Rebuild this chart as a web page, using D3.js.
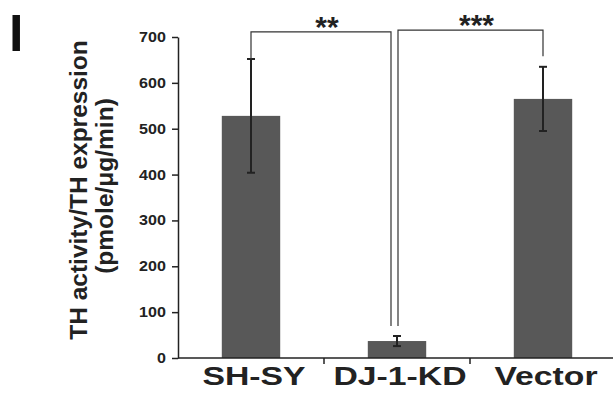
<!DOCTYPE html>
<html>
<head>
<meta charset="utf-8">
<script src="https://cdn.jsdelivr.net/npm/d3@7"></script>
<style>
  body { margin: 0; background: #fff; }
  svg { display: block; font-family: 'Liberation Sans', Arial, sans-serif; }
</style>
</head>
<body>
<div class="canvas"></div>
<script>
// data
const categories = ['SH-SY', 'DJ-1-KD', 'Vector']
const means = [528, 37, 565]
const errors = [124, 11, 70]
const yTicks = [0, 100, 200, 300, 400, 500, 600, 700]
// significance brackets: [from, to, label, left leg end, right leg end]
const comparisons = [
  ['SH-SY', 'DJ-1-KD', '**', 652, 70],
  ['DJ-1-KD', 'Vector', '***', 70, 658],
]
const bracketLevels = [711, 715]

const dims = { width: 613, height: 395 }
const plot = { left: 178, top: 37, bottom: 358 }

const svg = d3
  .select('.canvas')
  .append('svg')
  .attr('width', dims.width)
  .attr('height', dims.height)

const x = d3
  .scaleBand()
  .domain(categories)
  .range([plot.left, plot.left + 438])
  .paddingInner(0.6)
  .paddingOuter(0.3)

const y = d3.scaleLinear().domain([0, 700]).range([plot.bottom, plot.top])

const ink = '#222'

// bars
svg
  .selectAll('rect.bar')
  .data(categories)
  .enter()
  .append('rect')
  .attr('class', 'bar')
  .attr('x', (d) => x(d))
  .attr('y', (d, i) => y(means[i]))
  .attr('width', x.bandwidth())
  .attr('height', (d, i) => y(0) - y(means[i]))
  .attr('fill', '#585858')

// error bars
const cx = (d) => x(d) + x.bandwidth() / 2
const err = svg.append('g').attr('stroke', ink).attr('stroke-width', 2)
categories.forEach((c, i) => {
  const top = y(means[i] + errors[i])
  const bot = y(means[i] - errors[i])
  err.append('line').attr('x1', cx(c)).attr('x2', cx(c)).attr('y1', top).attr('y2', bot)
  ;[top, bot].forEach((v) => {
    err.append('line').attr('x1', cx(c) - 4).attr('x2', cx(c) + 4).attr('y1', v).attr('y2', v)
  })
})

// y axis
const yAxis = svg
  .append('g')
  .attr('transform', `translate(${plot.left},0)`)
  .call(d3.axisLeft(y).tickValues(yTicks).tickSize(6).tickSizeOuter(0).tickPadding(0))
yAxis.select('.domain').attr('stroke', ink).attr('stroke-width', 1.5)
yAxis.selectAll('.tick line').attr('stroke', ink).attr('stroke-width', 1.5)
yAxis
  .selectAll('.tick text')
  .attr('x', -10.5)
  .attr('transform', 'scale(1.15,1)')
  .attr('font-size', 14)
  .attr('font-weight', 'bold')
  .attr('fill', ink)
  .attr('font-family', "'Liberation Sans', Arial, sans-serif")

// x axis: line across, separators between groups
const xAxis = svg.append('g').attr('transform', `translate(0,${plot.bottom})`)
xAxis
  .append('line')
  .attr('x1', plot.left)
  .attr('x2', dims.width)
  .attr('stroke', ink)
  .attr('stroke-width', 1.5)
xAxis
  .selectAll('line.sep')
  .data(categories.slice(1))
  .enter()
  .append('line')
  .attr('class', 'sep')
  .attr('x1', (d) => x(d) - x.step() * x.paddingInner() / 2)
  .attr('x2', (d) => x(d) - x.step() * x.paddingInner() / 2)
  .attr('y1', 0)
  .attr('y2', 6)
  .attr('stroke', ink)
  .attr('stroke-width', 1.5)
xAxis
  .selectAll('text')
  .data(categories)
  .enter()
  .append('text')
  .attr('transform', (d) => `translate(${cx(d) + 3},27) scale(1.35,1)`)
  .attr('text-anchor', 'middle')
  .attr('font-size', 25)
  .attr('font-weight', 'bold')
  .attr('fill', ink)
  .text((d) => d)

// y title
svg
  .append('text')
  .attr('transform', 'translate(87,190) rotate(-90)')
  .attr('text-anchor', 'middle')
  .attr('font-size', 24.5)
  .attr('font-weight', 'bold')
  .attr('fill', ink)
  .text('TH activity/TH expression')
svg
  .append('text')
  .attr('transform', 'translate(113,186) rotate(-90)')
  .attr('text-anchor', 'middle')
  .attr('font-size', 24.5)
  .attr('font-weight', 'bold')
  .attr('fill', ink)
  .text('(pmole/μg/min)')

// significance brackets
comparisons.forEach(([a, b, label, leftEnd, rightEnd], i) => {
  const x1 = cx(a) + (i === 0 ? 0 : 1)
  const x2 = cx(b) + (i === 0 ? -6 : 0)
  const yy = y(bracketLevels[i])
  svg
    .append('path')
    .attr('d', `M${x1},${y(leftEnd)}V${yy}H${x2}V${y(rightEnd)}`)
    .attr('fill', 'none')
    .attr('stroke', '#333')
    .attr('stroke-width', 1.2)
  svg
    .append('text')
    .attr('x', (x1 + x2) / 2 + 6)
    .attr('y', yy + 5)
    .attr('text-anchor', 'middle')
    .attr('font-size', 30)
    .attr('font-weight', 'bold')
    .attr('fill', ink)
    .text(label)
})

// panel label
svg
  .append('text')
  .attr('x', 9)
  .attr('y', 51)
  .attr('font-size', 52)
  .attr('font-weight', 'bold')
  .attr('fill', '#111')
  .text('I')
</script>
</body>
</html>
